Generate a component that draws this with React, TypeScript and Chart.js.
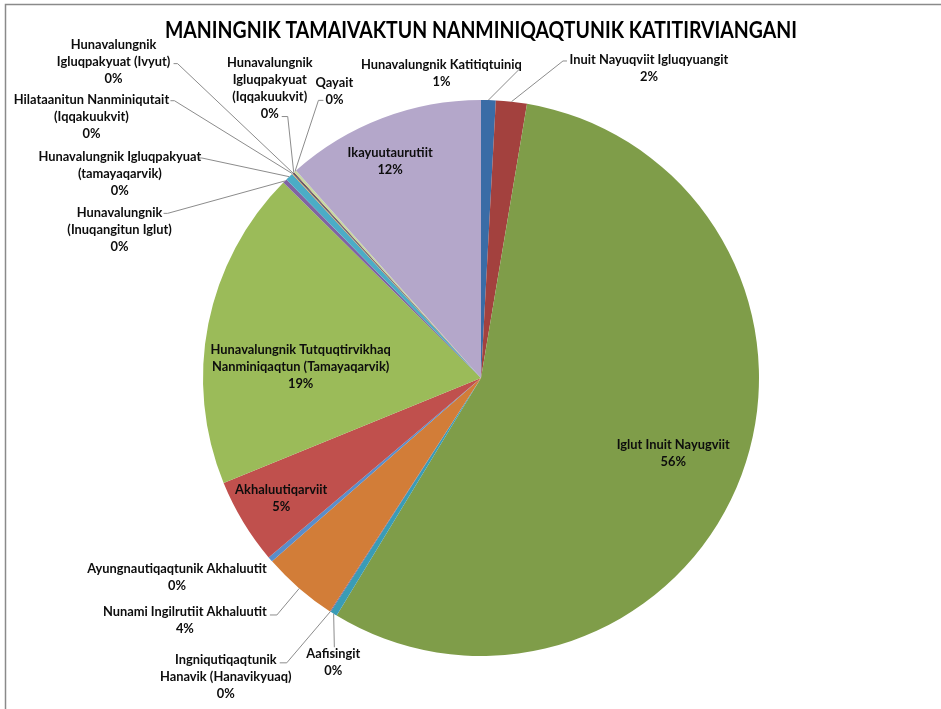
import React, { useEffect, useRef } from 'react';
import { Chart, registerables } from 'chart.js';

Chart.register(...registerables);

// ---------- data ----------
const TITLE = 'MANINGNIK TAMAIVAKTUN NANMINIQAQTUNIK KATITIRVIANGANI';

const categories: string[] = [
  'Hunavalungnik Katitiqtuiniq',
  'Inuit Nayuqviit Igluqyuangit',
  'Iglut Inuit Nayugviit',
  'Aafisingit',
  'Ingniqutiqaqtunik Hanavik (Hanavikyuaq)',
  'Nunami Ingilrutiit Akhaluutit',
  'Ayungnautiqaqtunik Akhaluutit',
  'Akhaluutiqarviit',
  'Hunavalungnik Tutquqtirvikhaq Nanminiqaqtun (Tamayaqarvik)',
  'Hunavalungnik (Inuqangitun Iglut)',
  'Hunavalungnik Igluqpakyuat (tamayaqarvik)',
  'Hilataanitun Nanminiqutait (Iqqakuukvit)',
  'Hunavalungnik Igluqpakyuat (Ivyut)',
  'Hunavalungnik Igluqpakyuat (Iqqakuukvit)',
  'Qayait',
  'Ikayuutaurutiit',
];

const values: number[] = [0.85, 1.8, 56.1, 0.4, 0.05, 4.4, 0.3, 5.0, 18.6, 0.25, 0.45, 0.05, 0.05, 0.05, 0.15, 11.6];

// how each category name wraps in its data label
const labelWraps: string[][] = [
  ['Hunavalungnik Katitiqtuiniq'],
  ['Inuit Nayuqviit Igluqyuangit'],
  ['Iglut Inuit Nayugviit'],
  ['Aafisingit'],
  ['Ingniqutiqaqtunik', 'Hanavik (Hanavikyuaq)'],
  ['Nunami Ingilrutiit Akhaluutit'],
  ['Ayungnautiqaqtunik Akhaluutit'],
  ['Akhaluutiqarviit'],
  ['Hunavalungnik Tutquqtirvikhaq', 'Nanminiqaqtun (Tamayaqarvik)'],
  ['Hunavalungnik', '(Inuqangitun Iglut)'],
  ['Hunavalungnik Igluqpakyuat', '(tamayaqarvik)'],
  ['Hilataanitun Nanminiqutait', '(Iqqakuukvit)'],
  ['Hunavalungnik', 'Igluqpakyuat (Ivyut)'],
  ['Hunavalungnik', 'Igluqpakyuat', '(Iqqakuukvit)'],
  ['Qayait'],
  ['Ikayuutaurutiit'],
];

// ---------- styles ----------
const sliceColors: string[] = [
  '#3A6CA6', '#A3413E', '#7F9D49', '#3A9CB6', '#6B5290', '#D27D38', '#5A8DCA', '#C0504D',
  '#9BBB59', '#8064A2', '#4BACC6', '#F79646', '#2C4D75', '#772C2A', '#C9DAA2', '#B4A7CA',
];

type Placement =
  | { inside: true; dAngle: number; frac: number }
  | { inside: false; dx: number; dy: number; leader: [number, number][] | null };

// label placement relative to the slice (outer mid-point for outside labels)
const placements: Placement[] = [
  { inside: false, dx: -47, dy: -35, leader: [[32, -32]] },
  { inside: false, dx: 137.5, dy: -41.7, leader: [[51.5, -40.7], [55.5, -40.7]] },
  { inside: true, dAngle: 1, frac: 0.743 },
  { inside: false, dx: -0.3, dy: 40.5, leader: [[0.7, 33.5]] },
  { inside: false, dx: -104.6, dy: 48.2, leader: [[-43.6, 51.2], [-50.6, 51.2]] },
  { inside: false, dx: -114.4, dy: 23.3, leader: [[-22.4, 26.6], [-29.4, 26.6]] },
  { inside: false, dx: -93.3, dy: 9.6, leader: null },
  { inside: true, dAngle: 0, frac: 0.84 },
  { inside: true, dAngle: -7.7, frac: 0.65 },
  { inside: false, dx: -165.3, dy: 32.1, leader: [[-117.3, 32.4], [-121.3, 32.4]] },
  { inside: false, dx: -169.4, dy: -20, leader: [[-87.4, -18.7], [-91.4, -18.7]] },
  { inside: false, dx: -201, dy: -74, leader: [[-118, -73], [-122, -73]] },
  { inside: false, dx: -179.5, dy: -128.5, leader: [[-115.5, -109.5], [-119.5, -109.5]] },
  { inside: false, dx: -24, dy: -110, leader: [[-6, -56], [-12, -56]] },
  { inside: false, dx: 39.4, dy: -88.7, leader: [[23.4, -71], [28.4, -71]] },
  { inside: true, dAngle: -1.9, frac: 0.845 },
];

const W = 941;
const H = 709;
const LABEL_FONT = 'bold 12.5px Lato, "Open Sans", sans-serif';
const TITLE_FONT = 'bold 22px Lato, "Open Sans", sans-serif';
const LINE_H = 17;
const LABEL_CAL = { text: 'Nunami Ingilrutiit Akhaluutit', width: 164 };
const TITLE_WIDTH = 632;

function scaledText(ctx: CanvasRenderingContext2D, text: string, x: number, y: number, sx: number) {
  ctx.save();
  ctx.translate(x, y);
  ctx.scale(sx, 1);
  ctx.fillText(text, 0, 0);
  ctx.restore();
}

const excelPlugin = {
  id: 'excelPie',
  beforeDraw(chart: any) {
    const ctx: CanvasRenderingContext2D = chart.ctx;
    ctx.save();
    ctx.fillStyle = '#ffffff';
    ctx.fillRect(0, 0, chart.width, chart.height);
    ctx.strokeStyle = '#8a8a8a';
    ctx.lineWidth = 1.5;
    ctx.beginPath();
    ctx.moveTo(5.5, chart.height);
    ctx.lineTo(5.5, 4.5);
    ctx.lineTo(chart.width, 4.5);
    ctx.stroke();
    ctx.restore();
  },
  afterDatasetsDraw(chart: any) {
    const ctx: CanvasRenderingContext2D = chart.ctx;
    const meta = chart.getDatasetMeta(0);
    const data: number[] = chart.data.datasets[0].data;
    const total = data.reduce((a, b) => a + b, 0);
    const area = chart.chartArea;

    ctx.save();
    // title
    ctx.font = TITLE_FONT;
    ctx.fillStyle = '#000';
    ctx.textAlign = 'center';
    ctx.textBaseline = 'middle';
    const tw = ctx.measureText(TITLE).width;
    scaledText(ctx, TITLE, (area.left + area.right) / 2, 31, Math.min(1.1, TITLE_WIDTH / tw));

    ctx.font = LABEL_FONT;
    const lsx = Math.max(0.8, Math.min(1.15, LABEL_CAL.width / ctx.measureText(LABEL_CAL.text).width));

    meta.data.forEach((arc: any, i: number) => {
      const p = arc.getProps(['x', 'y', 'startAngle', 'endAngle', 'outerRadius'], true);
      const mid = (p.startAngle + p.endAngle) / 2;
      const lines = [...labelWraps[i], Math.round((data[i] / total) * 100) + '%'];
      const pl = placements[i];
      ctx.fillStyle = '#0d0d0d';
      if (pl.inside) {
        const a = mid + (pl.dAngle * Math.PI) / 180;
        const cx = p.x + Math.cos(a) * p.outerRadius * pl.frac;
        const cy = p.y + Math.sin(a) * p.outerRadius * pl.frac;
        const y0 = cy - ((lines.length - 1) * LINE_H) / 2;
        lines.forEach((t, k) => scaledText(ctx, t, cx, y0 + k * LINE_H, lsx));
      } else {
        const ax = p.x + Math.cos(mid) * p.outerRadius;
        const ay = p.y + Math.sin(mid) * p.outerRadius;
        if (pl.leader) {
          ctx.strokeStyle = '#8c8c8c';
          ctx.lineWidth = 1;
          ctx.beginPath();
          ctx.moveTo(ax, ay);
          pl.leader.forEach(([lx, ly]) => ctx.lineTo(ax + lx, ay + ly));
          ctx.stroke();
        }
        lines.forEach((t, k) => scaledText(ctx, t, ax + pl.dx, ay + pl.dy + k * LINE_H, lsx));
      }
    });
    ctx.restore();
  },
};

export default function App() {
  const ref = useRef<HTMLCanvasElement | null>(null);
  useEffect(() => {
    if (!ref.current) return;
    const chart = new Chart(ref.current, {
      type: 'pie',
      data: {
        labels: categories,
        datasets: [
          {
            data: values,
            backgroundColor: sliceColors,
            borderWidth: 0,
          },
        ],
      },
      options: {
        responsive: false,
        animation: false,
        events: [],
        layout: { padding: { left: 202, right: 181, top: 100, bottom: 53 } },
        plugins: {
          legend: { display: false },
          title: { display: false },
          tooltip: { enabled: false },
        },
      },
      plugins: [excelPlugin],
    });
    return () => chart.destroy();
  }, []);
  return (
    <div style={{ position: 'absolute', left: 0, top: 0, width: W, height: H, background: '#fff' }}>
      <canvas ref={ref} width={W} height={H} style={{ display: 'block' }} />
    </div>
  );
}
